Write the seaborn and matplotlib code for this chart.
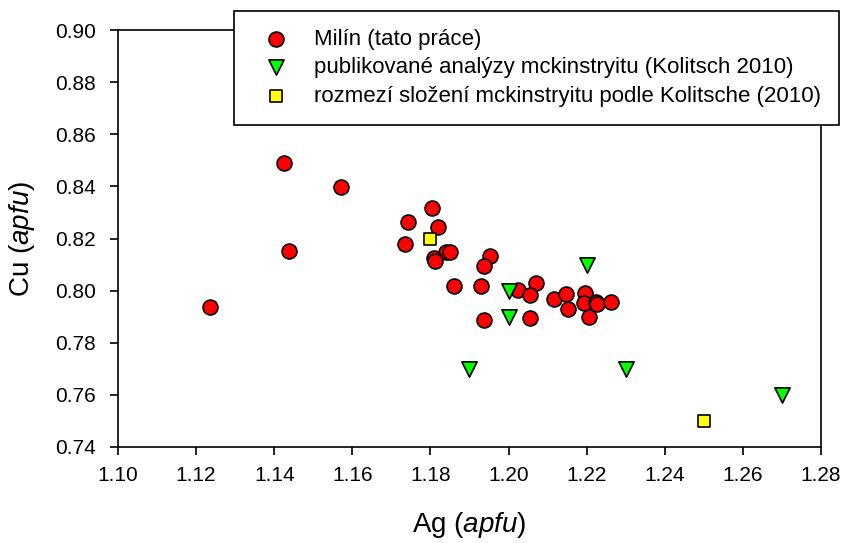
import matplotlib
matplotlib.use("Agg")
import matplotlib.pyplot as plt
import seaborn as sns
import pandas as pd

# Milín (this work)
milin_ag = [1.1235, 1.1426, 1.1439, 1.1571, 1.1804, 1.1743, 1.1819, 1.1735, 1.1839, 1.1849,
            1.1810, 1.1811, 1.1953, 1.1936, 1.1861, 1.1929, 1.2024, 1.2070, 1.2055, 1.2117,
            1.2146, 1.2151, 1.2197, 1.2193, 1.2224, 1.2226, 1.2262, 1.2206, 1.1937, 1.2056]
milin_cu = [0.7937, 0.8489, 0.8152, 0.8397, 0.8316, 0.8262, 0.8243, 0.8179, 0.8149, 0.8149,
            0.8124, 0.8113, 0.8132, 0.8095, 0.8018, 0.8017, 0.8002, 0.8030, 0.7985, 0.7969,
            0.7987, 0.7930, 0.7989, 0.7951, 0.7957, 0.7947, 0.7957, 0.7898, 0.7887, 0.7894]

# published analyses (Kolitsch 2010)
pub_ag = [1.22, 1.20, 1.20, 1.19, 1.23, 1.27]
pub_cu = [0.81, 0.80, 0.79, 0.77, 0.77, 0.76]

# compositional range (Kolitsch 2010)
range_ag = [1.18, 1.25]
range_cu = [0.82, 0.75]

labels = ["Milín (tato práce)",
          "publikované analýzy mckinstryitu (Kolitsch 2010)",
          "rozmezí složení mckinstryitu podle Kolitsche (2010)"]

xticks = [1.10, 1.12, 1.14, 1.16, 1.18, 1.20, 1.22, 1.24, 1.26, 1.28]
yticks = [0.74, 0.76, 0.78, 0.80, 0.82, 0.84, 0.86, 0.88, 0.90]

sns.set_theme(style="white")
plt.rcParams['font.family'] = ['Liberation Sans', 'DejaVu Sans']
plt.rcParams['mathtext.fontset'] = 'custom'
plt.rcParams['mathtext.rm'] = 'Liberation Sans'
plt.rcParams['mathtext.it'] = 'Liberation Sans:italic'
plt.rcParams['text.color'] = 'black'
plt.rcParams['axes.labelcolor'] = 'black'
plt.rcParams['xtick.color'] = 'black'
plt.rcParams['ytick.color'] = 'black'

fig = plt.figure(figsize=(8.43, 5.43), dpi=100)
ax = fig.add_axes([118/843, 1 - 447/543, (821 - 118)/843, (447 - 30)/543])

df1 = pd.DataFrame({"Ag": milin_ag, "Cu": milin_cu})
df2 = pd.DataFrame({"Ag": pub_ag, "Cu": pub_cu})
df3 = pd.DataFrame({"Ag": range_ag, "Cu": range_cu})

sns.scatterplot(data=df1, x="Ag", y="Cu", ax=ax, marker="o", s=115, color="#ff0000",
                edgecolor="black", linewidth=1.2, label=labels[0], zorder=3)
sns.scatterplot(data=df2, x="Ag", y="Cu", ax=ax, marker="v", s=120, color="#00ff00",
                edgecolor="black", linewidth=1.2, label=labels[1], zorder=3)
sns.scatterplot(data=df3, x="Ag", y="Cu", ax=ax, marker="s", s=80, color="#ffff00",
                edgecolor="black", linewidth=1.2, label=labels[2], zorder=4)

ax.set_xlim(1.10, 1.28)
ax.set_ylim(0.74, 0.90)
ax.set_xticks(xticks)
ax.set_yticks(yticks)
ax.set_xticklabels([f"{v:.2f}" for v in xticks], fontsize=15)
ax.set_yticklabels([f"{v:.2f}" for v in yticks], fontsize=15)
ax.tick_params(axis='both', direction='out', length=6, width=1.2, color='black',
               bottom=True, left=True, top=False, right=False)
ax.tick_params(axis='x', pad=8)
ax.tick_params(axis='y', pad=10)
for sp in ax.spines.values():
    sp.set_color('black')
    sp.set_linewidth(1.2)

ax.set_xlabel(r"Ag ($\mathit{apfu}$)", fontsize=20, labelpad=18)
ax.set_ylabel(r"Cu ($\mathit{apfu}$)", fontsize=20, labelpad=13)

leg = ax.legend(loc='upper left', bbox_to_anchor=(234/843, 1 - 11/543),
                bbox_transform=fig.transFigure, fontsize=16, frameon=True,
                fancybox=False, edgecolor='black', framealpha=1,
                borderpad=0.8, labelspacing=0.34, handletextpad=0.62,
                borderaxespad=0, handlelength=2.2)
leg.get_frame().set_linewidth(1.2)
leg.set_zorder(10)

fig.savefig("out.png", dpi=100)
